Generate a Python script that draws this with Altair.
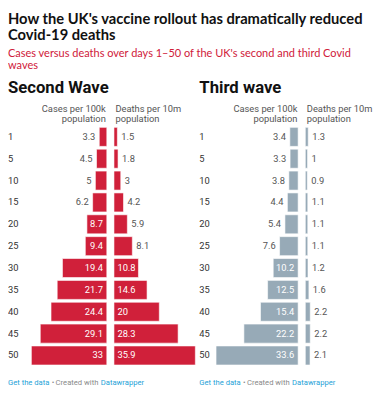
import altair as alt
import pandas as pd

# ---- data ----
days = ["1", "5", "10", "15", "20", "25", "30", "35", "40", "45", "50"]
second_cases = [3.3, 4.5, 5, 6.2, 8.7, 9.4, 19.4, 21.7, 24.4, 29.1, 33]
second_deaths = [1.5, 1.8, 3, 4.2, 5.9, 8.1, 10.8, 14.6, 20, 28.3, 35.9]
third_cases = [3.4, 3.3, 3.8, 4.4, 5.4, 7.6, 10.2, 12.5, 15.4, 22.2, 33.6]
third_deaths = [1.3, 1, 0.9, 1.1, 1.1, 1.1, 1.2, 1.6, 2.2, 2.2, 2.1]

title_lines = ["How the UK's vaccine rollout has dramatically reduced", "Covid-19 deaths"]
subtitle_lines = ["Cases versus deaths over days 1\u201350 of the UK's second and third Covid", "waves"]

# ---- style ----
W, H = 372, 384
RED = "#d0203a"
GREY_BLUE = "#97aab7"
BODY = "Roboto"
HEAD = "Lato"
LABEL_GREY = "#555555"
FS = 9.5
FOOT = 7.8

yscale = alt.Scale(domain=days, range=[116.5, 361.6], paddingInner=0.13, paddingOuter=0.065)


def panel(values, zero_px, end_px, dmax, color, side, threshold):
    df = pd.DataFrame({"day": days, "value": values})
    df["label"] = [f"{v:g}" for v in values]
    df["inside"] = df["value"] > threshold
    xs = alt.Scale(domain=[0, dmax], range=[zero_px, end_px], zero=True, nice=False)
    base = alt.Chart(df).encode(y=alt.Y("day:N", scale=yscale, axis=None, sort=days))
    bars = base.mark_bar(color=color, stroke="white", strokeWidth=0.6).encode(
        x=alt.X("value:Q", scale=xs, axis=None)
    )
    if side == "left":
        out_align, out_dx, in_align, in_dx = "right", -4, "right", -4
    else:
        out_align, out_dx, in_align, in_dx = "left", 4, "left", 3.5
    outside = base.transform_filter("!datum.inside").mark_text(
        align=out_align, dx=out_dx, baseline="middle", font=BODY, fontSize=FS, color=LABEL_GREY
    ).encode(x=alt.X("value:Q", scale=xs, axis=None), text="label:N")
    inside = base.transform_filter("datum.inside").mark_text(
        align=in_align, dx=in_dx, baseline="middle", font=BODY, fontSize=FS, color="white"
    ).encode(x=alt.datum(0, scale=xs, axis=None), text="label:N")
    return [bars, outside, inside]


def txt(s, x, y, size, color="#222222", weight="normal", align="left", font=BODY):
    return alt.Chart(pd.DataFrame({"t": [s]})).mark_text(
        align=align, baseline="alphabetic", font=font, fontSize=size, fontWeight=weight, color=color
    ).encode(x=alt.value(x), y=alt.value(y), text="t:N")


def days_col(x):
    df = pd.DataFrame({"day": days})
    return alt.Chart(df).mark_text(
        align="left", baseline="middle", font=BODY, fontSize=FS, color="#333333"
    ).encode(x=alt.value(x), y=alt.Y("day:N", scale=yscale, axis=None, sort=days), text="day:N")


layers = []
# titles
layers.append(txt(title_lines[0], 0, 12.7, 15, "#111111", "bold", font=HEAD))
layers.append(txt(title_lines[1], 0, 29.3, 15, "#111111", "bold", font=HEAD))
layers.append(txt(subtitle_lines[0], 0, 46.5, 11.2, RED, font=HEAD))
layers.append(txt(subtitle_lines[1], 0, 58.5, 11.2, RED, font=HEAD))
# panel headings
layers.append(txt("Second Wave", 0, 82.7, 17, "#111111", "bold"))
layers.append(txt("Third wave", 195, 82.7, 17, "#111111", "bold"))
# column headers
for x, a, l1 in [(99.7, "right", "Cases per 100k"), (109.5, "left", "Deaths per 10m"),
                 (295, "right", "Cases per 100k"), (304.5, "left", "Deaths per 10m")]:
    layers.append(txt(l1, x, 102.5, FS, LABEL_GREY, align=a))
    layers.append(txt("population", x, 112.5, FS, LABEL_GREY, align=a))
# day labels
layers.append(days_col(0))
layers.append(days_col(195))
# panels
layers += panel(second_cases, 100.7, 100.7 - 33 * 2.33, 33, RED, "left", 7)
layers += panel(second_deaths, 108, 108 + 35.9 * 2.31, 35.9, RED, "right", 9)
layers += panel(third_cases, 295.7, 295.7 - 33.6 * 2.49, 33.6, GREY_BLUE, "left", 9)
layers += panel(third_deaths, 303, 303 + 2.2 * 2.3, 2.2, GREY_BLUE, "right", 100)
# footers
for x0 in [0, 195]:
    layers.append(txt("Get the data", x0, 381, FOOT, "#1fa3d8"))
    layers.append(txt("\u2022", x0 + 44.5, 381, FOOT, "#8a8a8a"))
    layers.append(txt("Created with", x0 + 48.5, 381, FOOT, "#8a8a8a"))
    layers.append(txt("Datawrapper", x0 + 94.5, 381, FOOT, "#1fa3d8"))

chart = alt.layer(*layers).resolve_scale(x="independent").properties(
    width=W, height=H, padding=0, autosize=alt.AutoSizeParams(type="none")
).configure_view(stroke=None)

chart.save("out.html", embed_options={"renderer": "svg", "actions": False})
